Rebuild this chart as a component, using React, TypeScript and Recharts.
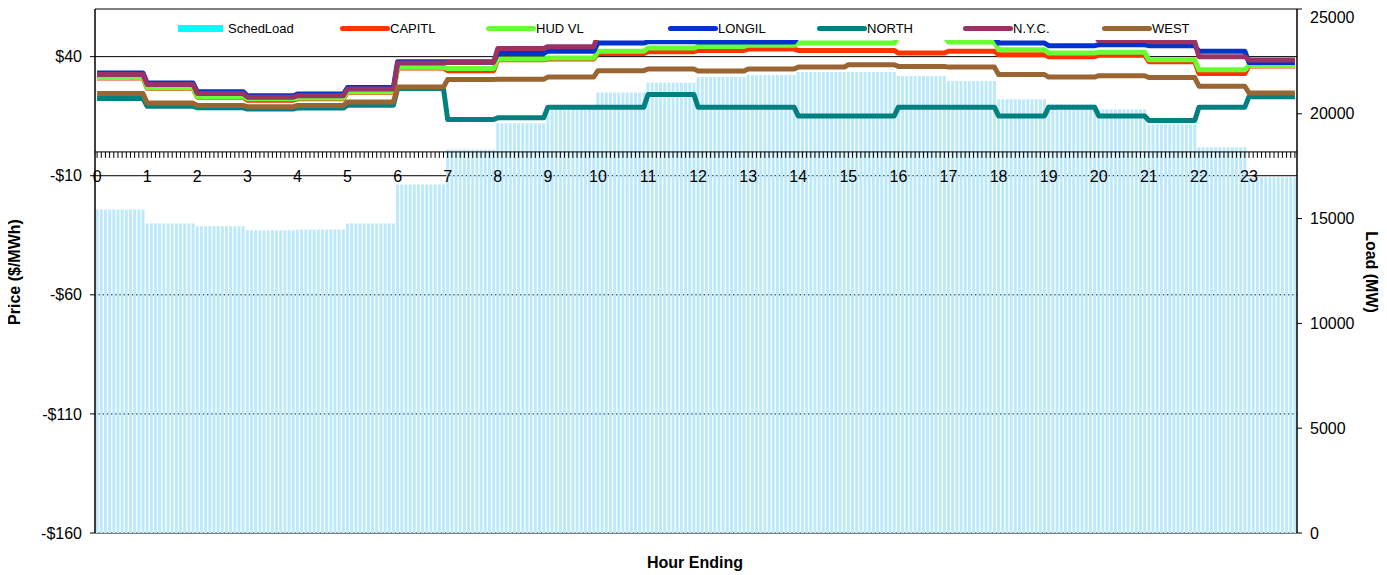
import React from "react";
import {
  ComposedChart,
  Bar,
  Line,
  XAxis,
  YAxis,
  CartesianGrid,
  ReferenceLine,
  Legend,
} from "recharts";

// ---------- data (hourly values, repeated for each 5-minute interval) ----------
const hourLabels = [
  "0", "1", "2", "3", "4", "5", "6", "7", "8", "9", "10", "11",
  "12", "13", "14", "15", "16", "17", "18", "19", "20", "21", "22", "23",
];

// SchedLoad (MW)
const schedLoad = [
  15440, 14770, 14630, 14440, 14480, 14770, 16630, 18300, 19550, 20220, 21020, 21480,
  21750, 21850, 22000, 21990, 21800, 21570, 20700, 20460, 20220, 19500, 18400, 16970,
];

// zone prices ($/MWh)
const capitl = [
  31.0, 26.7, 23.0, 21.7, 22.3, 25.0, 35.2, 34.1, 38.7, 39.0, 41.3, 42.1,
  42.6, 43.2, 42.6, 42.6, 41.5, 42.3, 40.8, 40.0, 40.6, 37.9, 32.9, 36.1,
];
const hudVl = [
  31.2, 26.9, 23.2, 22.3, 22.6, 25.3, 35.5, 35.0, 39.0, 39.4, 42.3, 43.6,
  44.3, 44.8, 45.7, 45.7, 48.5, 46.1, 42.9, 41.5, 41.8, 38.7, 34.5, 36.3,
];
const longil = [
  33.1, 28.9, 25.3, 23.6, 24.3, 27.0, 37.9, 37.9, 41.3, 42.3, 45.7, 46.3,
  46.1, 46.1, 48.5, 48.5, 48.5, 48.5, 45.7, 44.6, 45.0, 44.6, 42.3, 37.5,
];
const north = [
  22.4, 19.2, 18.5, 18.0, 18.4, 19.6, 26.6, 13.6, 14.3, 18.8, 18.8, 24.1,
  18.8, 18.8, 15.1, 15.1, 18.8, 18.8, 15.1, 18.8, 15.1, 13.2, 18.8, 23.2,
];
const nyc = [
  32.5, 28.3, 24.5, 23.0, 23.6, 26.4, 37.3, 37.5, 43.4, 44.2, 49.0, 49.0,
  49.0, 49.0, 49.0, 49.0, 49.0, 49.0, 49.0, 49.0, 46.8, 46.2, 40.0, 38.6,
];
const west = [
  24.5, 20.5, 19.5, 19.0, 19.5, 21.0, 27.2, 30.4, 30.5, 31.4, 34.1, 34.8,
  34.0, 34.8, 35.6, 36.6, 35.9, 35.6, 32.5, 31.4, 32.0, 31.2, 27.6, 24.7,
];

const priceTicks = [-160, -110, -60, -10, 40];
const loadTicks = [0, 5000, 10000, 15000, 20000, 25000];

const INTERVALS_PER_HOUR = 12;

// series drawn as lines, in Excel's order (later ones on top)
const lineSeries = [
  { key: "capitl", name: "CAPITL", color: "#FF3300", values: capitl },
  { key: "hudVl", name: "HUD VL", color: "#66FF33", values: hudVl },
  { key: "longil", name: "LONGIL", color: "#0033CC", values: longil },
  { key: "north", name: "NORTH", color: "#008080", values: north },
  { key: "nyc", name: "N.Y.C.", color: "#993366", values: nyc },
  { key: "west", name: "WEST", color: "#996633", values: west },
];

const rows: any[] = [];
for (let h = 0; h < hourLabels.length; h++) {
  for (let s = 0; s < INTERVALS_PER_HOUR; s++) {
    const row: any = { idx: h * INTERVALS_PER_HOUR + s, load: schedLoad[h] };
    for (const ls of lineSeries) row[ls.key] = ls.values[h];
    rows.push(row);
  }
}

// ---------- layout ----------
const W = 1371;
const H = 559;
const MARGIN = { top: 1, right: 8, bottom: 33, left: 8 };
const X_AXIS_H = 1;
const PLOT_TOP = MARGIN.top;
const PLOT_H = H - MARGIN.top - MARGIN.bottom - X_AXIS_H;
const PRICE_MIN = -160;
const PRICE_MAX = 60;
const FONT = "'Liberation Sans', Arial, sans-serif";

const priceY = (p: number) =>
  PLOT_TOP + ((PRICE_MAX - p) / (PRICE_MAX - PRICE_MIN)) * PLOT_H;

const fmtPrice = (v: number) => (v < 0 ? `-$${-v}` : `$${v}`);

// the category axis crosses the price axis at $0 (Excel style)
function HourTick(props: any) {
  const { x, payload } = props;
  const i = payload.value as number;
  const y0 = priceY(0);
  return (
    <g>
      <line x1={x} x2={x} y1={y0} y2={y0 + 6} stroke="#000" strokeWidth={1} />
      {i % INTERVALS_PER_HOUR === 0 && (
        <text
          x={x}
          y={priceY(-10)}
          dy={6}
          textAnchor="middle"
          fontSize={16}
          fontFamily={FONT}
          fill="#000"
        >
          {hourLabels[i / INTERVALS_PER_HOUR]}
        </text>
      )}
    </g>
  );
}

const legendOffsets = [18, 180, 326, 508, 657, 803, 942];

function LegendBox() {
  const items = [
    { name: "SchedLoad", color: "#00FFFF", bar: true },
    ...lineSeries.map((s) => ({ name: s.name, color: s.color, bar: false })),
  ];
  return (
    <div style={{ position: "relative", width: "100%", height: "100%" }}>
      {items.map((it, i) => (
        <div
          key={it.name}
          style={{
            position: "absolute",
            left: legendOffsets[i],
            top: 9,
            display: "flex",
            alignItems: "center",
            fontSize: 13,
            fontFamily: FONT,
            color: "#000",
            whiteSpace: "nowrap",
          }}
        >
          {it.bar ? (
            <span
              style={{
                display: "inline-block",
                width: 45,
                height: 7,
                background: it.color,
                marginRight: 5,
              }}
            />
          ) : (
            <span
              style={{
                display: "inline-block",
                width: 50,
                height: 5,
                borderRadius: 3,
                background: it.color,
              }}
            />
          )}
          <span>{it.name}</span>
        </div>
      ))}
    </div>
  );
}

export default function App() {
  return (
    <div style={{ position: "relative", width: W, height: H + 8, fontFamily: FONT }}>
      <ComposedChart
        width={W}
        height={H}
        data={rows}
        margin={MARGIN}
        barCategoryGap={0.6}
      >
        <CartesianGrid yAxisId="price" vertical={false} stroke="#000" strokeWidth={1} />
        <XAxis
          dataKey="idx"
          height={X_AXIS_H}
          interval={0}
          axisLine={false}
          tickLine={false}
          tick={<HourTick />}
        />
        <YAxis
          yAxisId="price"
          orientation="left"
          width={79}
          domain={[PRICE_MIN, PRICE_MAX]}
          ticks={priceTicks}
          allowDataOverflow
          tickFormatter={fmtPrice}
          tick={{ fontSize: 16, fill: "#000", fontFamily: FONT }}
          axisLine={{ stroke: "#000", strokeWidth: 1.5 }}
          tickLine={{ stroke: "#000" }}
          tickSize={5}
          tickMargin={8}
        />
        <YAxis
          yAxisId="load"
          orientation="right"
          width={74}
          domain={[0, 25000]}
          ticks={loadTicks}
          tick={{ fontSize: 16, fill: "#000", fontFamily: FONT }}
          axisLine={{ stroke: "#000", strokeWidth: 1.5 }}
          tickLine={{ stroke: "#000" }}
          tickSize={5}
          tickMargin={8}
        />
        <Legend
          layout="horizontal"
          verticalAlign="middle"
          align="center"
          wrapperStyle={{
            position: "absolute",
            left: 152,
            top: 4,
            width: 1102,
            height: 28,
            background: "#fff",
          }}
          content={() => <LegendBox />}
        />
        <Bar
          yAxisId="load"
          dataKey="load"
          name="SchedLoad"
          fill="#bdeafb"
          isAnimationActive={false}
        />
        {lineSeries.map((s) => (
          <Line
            key={s.key}
            yAxisId="price"
            type="linear"
            dataKey={s.key}
            name={s.name}
            stroke={s.color}
            strokeWidth={5}
            strokeLinejoin="round"
            dot={false}
            activeDot={false}
            isAnimationActive={false}
          />
        ))}
        <ReferenceLine yAxisId="price" y={0} stroke="#000" strokeWidth={1} />
        <ReferenceLine yAxisId="price" y={PRICE_MAX} stroke="#808080" strokeWidth={1.5} />
      </ComposedChart>

      <div
        style={{
          position: "absolute",
          left: 7,
          top: 264,
          transform: "translate(-50%, -50%) rotate(-90deg)",
          fontWeight: "bold",
          fontSize: 16,
          whiteSpace: "nowrap",
        }}
      >
        Price ($/MWh)
      </div>
      <div
        style={{
          position: "absolute",
          left: 1363,
          top: 264,
          transform: "translate(-50%, -50%) rotate(90deg)",
          fontWeight: "bold",
          fontSize: 16,
          whiteSpace: "nowrap",
        }}
      >
        Load (MW)
      </div>
      <div
        style={{
          position: "absolute",
          left: 687,
          top: 555,
          transform: "translate(-50%, -50%)",
          fontWeight: "bold",
          fontSize: 16,
          whiteSpace: "nowrap",
        }}
      >
        Hour Ending
      </div>
    </div>
  );
}
